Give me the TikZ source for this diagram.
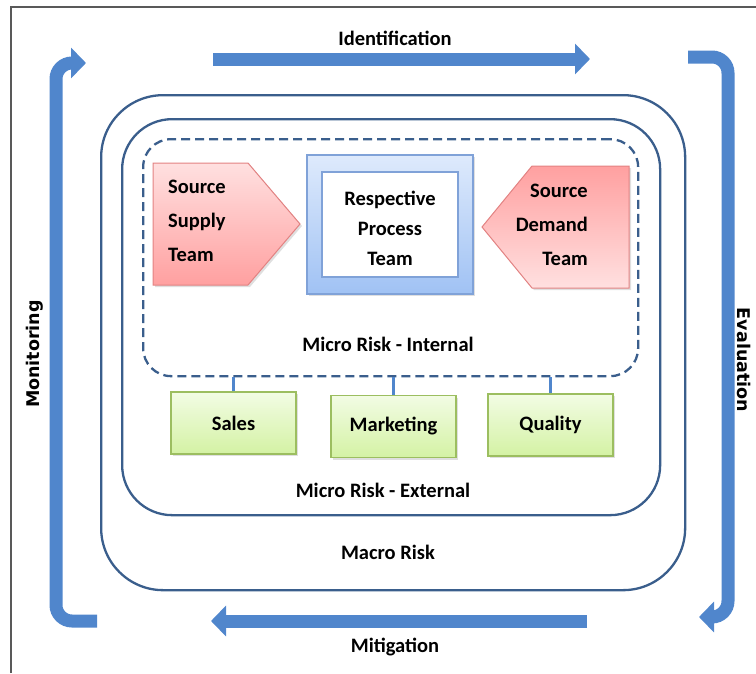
\documentclass[tikz,border=0pt]{standalone}
\usepackage{fontspec}
\setmainfont{Carlito}
\newfontfamily\sidefont{DejaVu Sans}
\usetikzlibrary{arrows.meta,positioning,shadows}

\definecolor{arrowblue}{RGB}{80,134,204}
\definecolor{ringblue}{RGB}{58,94,140}
\definecolor{redtop}{RGB}{255,224,224}
\definecolor{redbot}{RGB}{255,160,160}
\definecolor{redline}{RGB}{226,130,130}
\definecolor{bluetop}{RGB}{222,234,252}
\definecolor{bluebot}{RGB}{160,194,244}
\definecolor{blueline}{RGB}{128,162,216}
\definecolor{greentop}{RGB}{242,252,228}
\definecolor{greenbot}{RGB}{212,242,164}
\definecolor{greenline}{RGB}{156,190,96}

\newcommand\lblfont{\fontsize{20.5}{34}\selectfont\bfseries}

\tikzset{
  ring/.style={draw=ringblue, line width=2.3pt, anchor=north west},
  flow/.style={draw=arrowblue, line width=13pt, -{Triangle[length=15pt,width=30pt]}},
  softshadow/.style={drop shadow={opacity=0.25, shadow xshift=2pt, shadow yshift=-2pt}},
  team/.style={draw=redline, line width=1pt, softshadow},
  unit/.style={draw=greenline, line width=1.2pt, top color=greentop, bottom color=greenbot,
    minimum width=125pt, minimum height=62pt, font=\lblfont, softshadow},
  link/.style={draw=arrowblue, line width=3pt},
  lbl/.style={font=\lblfont, text=black},
  side/.style={font=\fontsize{17.5}{20}\sidefont\bfseries, text=black}
}

\begin{document}
\begin{tikzpicture}[x=1pt, y=-1pt]
\useasboundingbox (0,0) rectangle (756,673);
\draw[gray!70!black, line width=1.2pt] (11,673) -- (11,7) -- (756,7);

% risk rings
\node[ring, rounded corners=62pt, minimum width=584pt, minimum height=495pt] (macro) at (100,94) {};
\node[ring, rounded corners=50pt, minimum width=538pt, minimum height=396pt] (external) at (121,118) {};
\node[ring, dashed, dash pattern=on 9pt off 5pt, rounded corners=28pt, minimum width=495pt, minimum height=237pt] (internal) at (142,138) {};

% teams
\path[team, top color=redtop, bottom color=redbot]
  (153,163) -- (248,163) -- (300,224) -- (248,285) -- (153,285) -- cycle;
\path[team, top color=redbot, bottom color=redtop]
  (629,166) -- (532,166) -- (482,227) -- (532,288) -- (629,288) -- cycle;
\node[lbl, inner sep=0pt, align=left, anchor=west] (supply) at (168,221) {Source\\Supply\\Team};
\node[lbl, inner sep=0pt, align=right, anchor=east] (demand) at (588,225) {Source\\Demand\\Team};

\node[draw=blueline, line width=1.2pt, top color=bluetop, bottom color=bluebot,
  minimum width=166pt, minimum height=139pt, softshadow] (process) at (390,224.5) {};
\node[draw=blueline, line width=1.5pt, fill=white, minimum width=136pt, minimum height=105pt] (processin) at (process.center) {};
\node[font=\fontsize{20.5}{30}\selectfont\bfseries, align=center] (processtxt)
  at ([yshift=-4pt]processin.center) {Respective\\Process\\Team};

\node[lbl] (intlbl) at (388,344) {Micro Risk - Internal};

% units
\node[unit] (sales) at (233.5,423) {Sales};
\node[unit] (marketing) at (393.5,426.5) {Marketing};
\node[unit] (quality) at (550.5,425) {Quality};
\foreach \u in {sales,marketing,quality}
  \draw[link] (\u.north) -- (\u.north |- internal.south);

\node[lbl] (extlbl) at (383,490) {Micro Risk - External};
\node[lbl] (macrolbl) at (388,552) {Macro Risk};

% cycle arrows
\coordinate (idstart) at (213,59);
\coordinate (idend) at (590,59);
\draw[flow] (idstart) -- (idend);
\node[lbl] (idlbl) at (395,38) {Identification};

\coordinate (evstart) at (688,57);
\coordinate (evend) at (699,617);
\draw[flow, rounded corners=16pt] (evstart) -- (728,57) -- (728,617) -- (evend);
\node[side, rotate=-90] (evlbl) at (744,360) {Evaluation};

\coordinate (mistart) at (587,621);
\coordinate (miend) at (211,621);
\draw[flow] (mistart) -- (miend);
\node[lbl] (milbl) at (395,647) {Mitigation};

\coordinate (mostart) at (97,621);
\coordinate (moend) at (86,63);
\draw[flow, rounded corners=16pt] (mostart) -- (56,621) -- (56,63) -- (moend);
\node[side, rotate=90] (molbl) at (35,354) {Monitoring};
\end{tikzpicture}
\end{document}
